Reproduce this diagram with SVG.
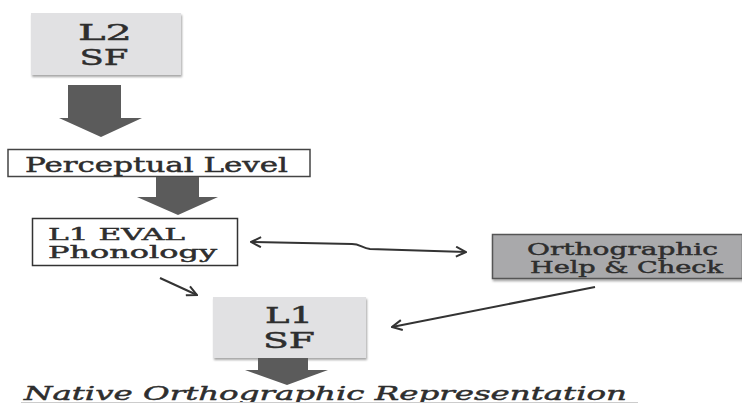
<svg xmlns="http://www.w3.org/2000/svg" width="742" height="403" viewBox="0 0 742 403">
<style>
.t{font-family:"DejaVu Serif","Liberation Serif",serif;fill:#2e2e2e;stroke:#2e2e2e;stroke-width:0.45;}
.big{font-size:22px;}
.mid{font-size:20px;}
.sm{font-size:17px;}
.or{font-size:16.5px;}
.it{font-size:19px;font-style:italic;}
.blk{fill:#5b5b5b;}
.line{fill:none;stroke:#333;stroke-width:2;}
</style>
<defs>
<filter id="sh" x="-5%" y="-5%" width="115%" height="125%">
<feDropShadow dx="1" dy="2" stdDeviation="1.2" flood-color="#000" flood-opacity="0.35"/>
</filter>
<marker id="ah" viewBox="0 0 12 12" refX="11" refY="6" markerWidth="12" markerHeight="12" markerUnits="userSpaceOnUse" orient="auto-start-reverse">
<path d="M1,1 L11,6 L1,11" fill="none" stroke="#333" stroke-width="2"/>
</marker>
</defs>
<rect width="742" height="403" fill="#fff"/>

<g id="l2sf">
<rect x="31" y="13" width="150" height="62" fill="#e1e1e3" filter="url(#sh)"/>
<text class="t big" x="105" y="40" text-anchor="middle" textLength="54" lengthAdjust="spacingAndGlyphs">L2</text>
<text class="t big" x="104" y="65" text-anchor="middle" textLength="49" lengthAdjust="spacingAndGlyphs">SF</text>
</g>

<g id="perceptual">
<rect x="8" y="149.5" width="302" height="27" fill="#fff" stroke="#444" stroke-width="1.5"/>
<text class="t mid" x="25" y="172" textLength="263" lengthAdjust="spacingAndGlyphs">Perceptual Level</text>
</g>

<g id="l1eval">
<rect x="32.5" y="218.5" width="205" height="47" fill="#fff" stroke="#333" stroke-width="1.5"/>
<text class="t sm" x="48" y="239.5" textLength="137" lengthAdjust="spacingAndGlyphs">L1 EVAL</text>
<text class="t sm" x="48" y="258" textLength="169" lengthAdjust="spacingAndGlyphs">Phonology</text>
</g>

<g id="l1sf">
<rect x="213" y="297" width="153" height="61" fill="#e1e1e3" filter="url(#sh)"/>
<text class="t big" x="289" y="323" text-anchor="middle" textLength="48" lengthAdjust="spacingAndGlyphs">L1</text>
<text class="t big" x="289" y="348" text-anchor="middle" textLength="52" lengthAdjust="spacingAndGlyphs">SF</text>
</g>

<g id="ortho">
<rect x="492.5" y="234.5" width="250" height="44" fill="#a9a9ab" stroke="#555" stroke-width="1.5" filter="url(#sh)"/>
<text class="t or" x="527" y="254.5" textLength="191" lengthAdjust="spacingAndGlyphs">Orthographic</text>
<text class="t or" x="530" y="272.5" textLength="193" lengthAdjust="spacingAndGlyphs">Help &amp; Check</text>
</g>

<g id="native">
<text class="t it" x="24" y="400" textLength="603" lengthAdjust="spacingAndGlyphs">Native Orthographic Representation</text>
<line x1="21" y1="402.5" x2="638" y2="402.5" stroke="#ccc" stroke-width="1"/>
</g>

<g id="connectors">
<path class="blk" d="M68,85 H121 V118 H142 L101,137 L59,118 H68 Z"/>
<path class="blk" d="M156,177 H199 V197 H218 L178,215 L137,197 H156 Z"/>
<path class="blk" d="M258,358 H308 V370 H328 L287,385 L245,370 H258 Z"/>
<path class="line" d="M251,242 L352,244 C360,244 362,248 370,249 L466,252" marker-start="url(#ah)" marker-end="url(#ah)"/>
<path class="line" d="M160,278 L197,295" marker-end="url(#ah)"/>
<path class="line" d="M595,287 L392,327" marker-end="url(#ah)"/>
</g>
</svg>
